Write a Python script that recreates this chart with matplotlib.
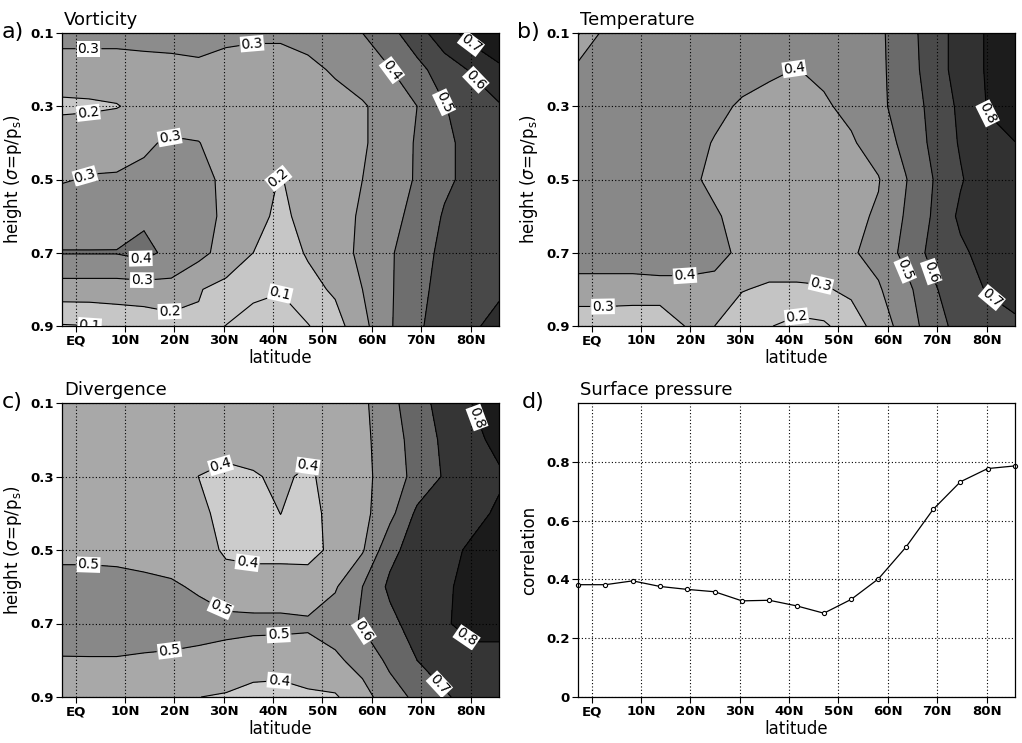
import numpy as np
import matplotlib
matplotlib.use('Agg')
import matplotlib.pyplot as plt

# gaussian grid latitudes (T21) and sigma levels
lats = [-2.77, 2.77, 8.31, 13.84, 19.37, 24.91, 30.44, 35.97, 41.51,
        47.04, 52.57, 58.10, 63.63, 69.17, 74.70, 80.22, 85.76]
sigma = [0.1, 0.2, 0.3, 0.4, 0.5, 0.6, 0.7, 0.8, 0.9]

# correlation, rows = sigma levels, cols = latitudes
vort = [
    [0.33, 0.33, 0.33, 0.33, 0.325, 0.32, 0.32, 0.32, 0.32, 0.33, 0.36, 0.40, 0.47, 0.56, 0.66, 0.74, 0.79],
    [0.26, 0.26, 0.26, 0.27, 0.28, 0.29, 0.27, 0.25, 0.25, 0.28, 0.31, 0.35, 0.395, 0.47, 0.55, 0.61, 0.68],
    [0.18, 0.185, 0.195, 0.23, 0.25, 0.26, 0.25, 0.24, 0.24, 0.25, 0.27, 0.29, 0.34, 0.40, 0.495, 0.55, 0.59],
    [0.265, 0.27, 0.28, 0.29, 0.31, 0.302, 0.27, 0.25, 0.24, 0.25, 0.27, 0.29, 0.34, 0.41, 0.48, 0.53, 0.57],
    [0.295, 0.305, 0.305, 0.315, 0.33, 0.33, 0.28, 0.24, 0.195, 0.24, 0.27, 0.30, 0.35, 0.41, 0.48, 0.53, 0.55],
    [0.34, 0.34, 0.345, 0.38, 0.36, 0.34, 0.28, 0.23, 0.18, 0.23, 0.27, 0.31, 0.37, 0.43, 0.51, 0.54, 0.56],
    [0.405, 0.405, 0.405, 0.43, 0.37, 0.33, 0.26, 0.20, 0.15, 0.21, 0.26, 0.32, 0.39, 0.45, 0.53, 0.56, 0.58],
    [0.255, 0.255, 0.255, 0.257, 0.269, 0.205, 0.173, 0.13, 0.105, 0.168, 0.215, 0.30, 0.39, 0.46, 0.55, 0.57, 0.59],
    [0.093, 0.098, 0.12, 0.136, 0.156, 0.19, 0.098, 0.05, 0.06, 0.095, 0.16, 0.27, 0.39, 0.48, 0.56, 0.59, 0.62],
]

temp = [
    [0.29, 0.43, 0.44, 0.44, 0.44, 0.44, 0.44, 0.43, 0.42, 0.43, 0.45, 0.48, 0.56, 0.65, 0.74, 0.81, 0.85],
    [0.43, 0.44, 0.44, 0.44, 0.44, 0.44, 0.43, 0.415, 0.398, 0.415, 0.45, 0.48, 0.55, 0.65, 0.74, 0.81, 0.85],
    [0.44, 0.45, 0.45, 0.45, 0.44, 0.42, 0.39, 0.37, 0.37, 0.39, 0.42, 0.48, 0.54, 0.63, 0.72, 0.805, 0.83],
    [0.44, 0.45, 0.45, 0.44, 0.43, 0.395, 0.36, 0.35, 0.35, 0.37, 0.39, 0.44, 0.53, 0.62, 0.71, 0.78, 0.799],
    [0.44, 0.45, 0.45, 0.44, 0.42, 0.38, 0.35, 0.34, 0.34, 0.35, 0.37, 0.395, 0.495, 0.60, 0.69, 0.77, 0.79],
    [0.44, 0.45, 0.45, 0.44, 0.43, 0.41, 0.37, 0.35, 0.35, 0.36, 0.38, 0.41, 0.51, 0.61, 0.72, 0.77, 0.79],
    [0.44, 0.44, 0.44, 0.45, 0.45, 0.43, 0.38, 0.36, 0.36, 0.37, 0.39, 0.43, 0.53, 0.63, 0.68, 0.74, 0.76],
    [0.37, 0.37, 0.37, 0.37, 0.37, 0.37, 0.305, 0.285, 0.285, 0.29, 0.32, 0.39, 0.47, 0.585, 0.67, 0.705, 0.72],
    [0.22, 0.22, 0.21, 0.21, 0.31, 0.30, 0.24, 0.205, 0.17, 0.185, 0.25, 0.34, 0.45, 0.55, 0.64, 0.67, 0.69],
]

div = [
    [0.45, 0.45, 0.45, 0.45, 0.45, 0.45, 0.45, 0.45, 0.45, 0.45, 0.45, 0.48, 0.57, 0.66, 0.74, 0.80, 0.84],
    [0.45, 0.45, 0.45, 0.45, 0.45, 0.45, 0.45, 0.45, 0.45, 0.45, 0.45, 0.475, 0.555, 0.64, 0.72, 0.78, 0.82],
    [0.45, 0.45, 0.45, 0.45, 0.45, 0.399, 0.37, 0.39, 0.42, 0.38, 0.45, 0.47, 0.55, 0.63, 0.71, 0.77, 0.79],
    [0.45, 0.45, 0.45, 0.45, 0.45, 0.43, 0.36, 0.36, 0.401, 0.36, 0.44, 0.47, 0.57, 0.72, 0.76, 0.78, 0.81],
    [0.48, 0.48, 0.475, 0.47, 0.465, 0.46, 0.38, 0.37, 0.37, 0.36, 0.43, 0.49, 0.67, 0.75, 0.78, 0.81, 0.83],
    [0.53, 0.53, 0.53, 0.52, 0.51, 0.49, 0.46, 0.45, 0.45, 0.46, 0.49, 0.60, 0.72, 0.76, 0.79, 0.82, 0.84],
    [0.54, 0.545, 0.545, 0.54, 0.54, 0.53, 0.52, 0.52, 0.52, 0.51, 0.55, 0.61, 0.67, 0.75, 0.79, 0.83, 0.84],
    [0.495, 0.495, 0.495, 0.49, 0.485, 0.48, 0.475, 0.46, 0.455, 0.47, 0.48, 0.54, 0.62, 0.70, 0.74, 0.77, 0.76],
    [0.47, 0.47, 0.46, 0.45, 0.44, 0.401, 0.39, 0.36, 0.355, 0.38, 0.39, 0.46, 0.56, 0.62, 0.69, 0.73, 0.75],
]

ps_corr = [0.382, 0.382, 0.395, 0.376, 0.366, 0.358, 0.327, 0.329, 0.310,
           0.285, 0.332, 0.402, 0.509, 0.638, 0.732, 0.777, 0.786]

# where the contour labels sit (lat, sigma)
lab_a = [(2.6, 0.13), (35.7, 0.126), (2.6, 0.325), (19.1, 0.387), (2.6, 0.515),
         (41.4, 0.5), (13.4, 0.70), (13.4, 0.775), (19.1, 0.855), (41.4, 0.81),
         (2.9, 0.895), (63.7, 0.205), (74.5, 0.29), (80.2, 0.24), (80.2, 0.127)]
lab_b = [(41.2, 0.2), (80.0, 0.32), (18.9, 0.765), (46.6, 0.767), (2.3, 0.84),
         (41.2, 0.865), (63.5, 0.747), (68.9, 0.751), (80.0, 0.843)]
lab_c = [(80.2, 0.145), (29.9, 0.285), (46.8, 0.25), (35.0, 0.515), (2.6, 0.559),
         (29.9, 0.645), (41.1, 0.732), (19.1, 0.785), (41.1, 0.84), (57.6, 0.727),
         (79.9, 0.727), (74.5, 0.855)]

xtick_pos = [0, 10, 20, 30, 40, 50, 60, 70, 80]
xtick_lab = ['EQ', '10N', '20N', '30N', '40N', '50N', '60N', '70N', '80N']
sig_ticks = [0.1, 0.3, 0.5, 0.7, 0.9]

fill_levels = [-1, 0.1, 0.2, 0.3, 0.4, 0.5, 0.6, 0.7, 0.8, 2]
line_levels = [0.1, 0.2, 0.3, 0.4, 0.5, 0.6, 0.7, 0.8]
grays_a = ['#c8c8c8', '#c6c6c6', '#a2a2a2', '#8c8c8c', '#6e6e6e', '#484848', '#2e2e2e', '#1a1a1a', '#1a1a1a']
grays_b = ['#c8c8c8', '#c8c8c8', '#c4c4c4', '#a2a2a2', '#888888', '#6a6a6a', '#4a4a4a', '#313131', '#1c1c1c']
grays_c = ['#d0d0d0', '#d0d0d0', '#d0d0d0', '#cccccc', '#a8a8a8', '#888888', '#666666', '#353535', '#1b1b1b']

fig = plt.figure(figsize=(10.22, 7.43), dpi=100)
W, H = 1022., 743.


def ax_at(x0, y0, x1, y1):
    return fig.add_axes([x0 / W, 1 - y1 / H, (x1 - x0) / W, (y1 - y0) / H])


def style(ax):
    ax.set_xlim(lats[0], lats[-1])
    ax.set_xticks(xtick_pos)
    ax.set_xticklabels(xtick_lab)
    ax.tick_params(direction='out', length=4, width=0.8, labelsize=9.5, pad=2)
    for t in ax.get_xticklabels() + ax.get_yticklabels():
        t.set_fontweight('bold')
    ax.grid(True, color='black', linestyle=(0, (1, 2)), linewidth=0.8)
    ax.set_axisbelow(False)
    for s in ax.spines.values():
        s.set_linewidth(0.9)
    ax.set_xlabel('latitude', fontsize=12, labelpad=1)


def contour_panel(ax, data, grays, labpos):
    X, Y = np.meshgrid(lats, sigma)
    Z = np.array(data)
    ax.contourf(X, Y, Z, levels=fill_levels, colors=grays)
    cs = ax.contour(X, Y, Z, levels=line_levels, colors='black', linewidths=0.8)
    ax.set_ylim(0.9, 0.1)
    ax.set_xlim(lats[0], lats[-1])
    labs = ax.clabel(cs, fmt='%.1f', fontsize=10, inline=True, inline_spacing=2,
                     manual=labpos)
    for t in labs:
        t.set_bbox(dict(facecolor='white', edgecolor='none', pad=0.6))
    ax.set_yticks(sig_ticks)
    ax.set_yticklabels(['0.1', '0.3', '0.5', '0.7', '0.9'])
    style(ax)
    ax.set_ylabel(r'height ($\sigma$=p/p$_\mathrm{s}$)', fontsize=12, labelpad=4)


axa = ax_at(62, 33, 499, 326)
contour_panel(axa, vort, grays_a, lab_a)
axb = ax_at(578, 33, 1015, 326)
contour_panel(axb, temp, grays_b, lab_b)
axc = ax_at(62, 403, 499, 697)
contour_panel(axc, div, grays_c, lab_c)

axd = ax_at(578, 403, 1015, 697)
axd.plot(lats, ps_corr, color='black', linewidth=0.9, marker='o', ms=3,
         mfc='white', mec='black', mew=0.8, clip_on=False)
axd.set_ylim(0, 1)
axd.set_yticks([0, 0.2, 0.4, 0.6, 0.8])
axd.set_yticklabels(['0', '0.2', '0.4', '0.6', '0.8'])
style(axd)
axd.set_ylabel('correlation', fontsize=12, labelpad=6)

titles = [('a)', 'Vorticity', 2, 64, 27), ('b)', 'Temperature', 517, 580, 27),
          ('c)', 'Divergence', 2, 64, 397), ('d)', 'Surface pressure', 522, 580, 397)]
for letter, name, lx, tx, ty in titles:
    fig.text(lx / W, 1 - (ty + 11) / H, letter, fontsize=16, ha='left', va='baseline')
    fig.text(tx / W, 1 - (ty - 2) / H, name, fontsize=13, ha='left', va='baseline')

fig.savefig('out.png', dpi=100)
